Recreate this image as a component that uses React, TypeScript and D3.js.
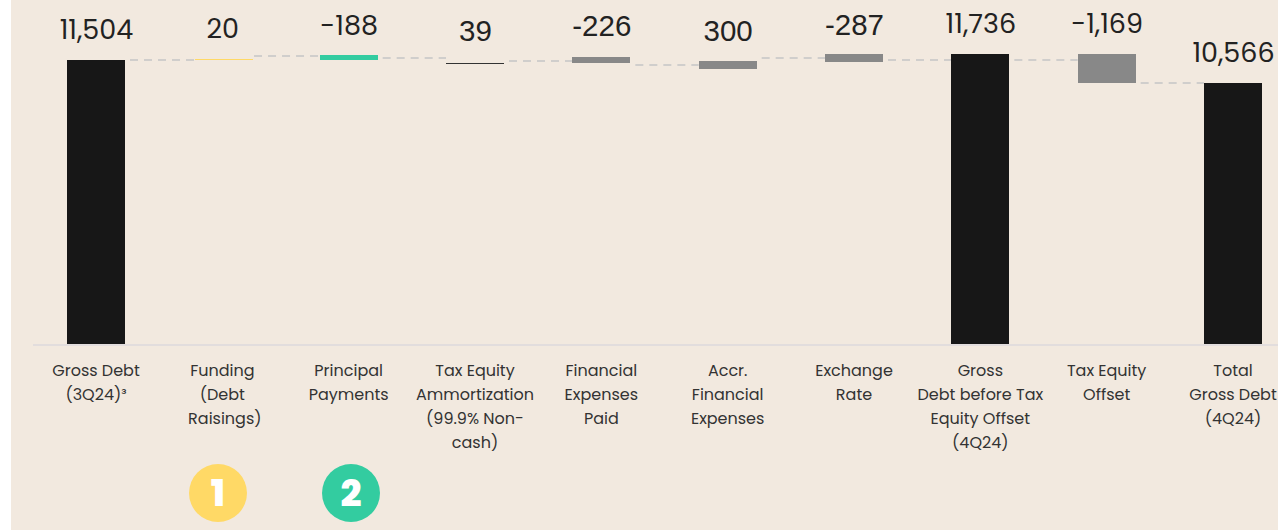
import React from "react";
import * as d3 from "d3";

const categories = ["Gross Debt (3Q24)", "Funding", "Principal Payments", "Tax Equity Ammortization", "Financial Expenses Paid", "Accr. Financial Expenses", "Exchange Rate", "Gross Debt before Tax Equity Offset (4Q24)", "Tax Equity Offset", "Total Gross Debt (4Q24)"];
const labelLines = [
  ["Gross Debt", "(3Q24)³"],
  ["Funding", "(Debt", "Raisings)"],
  ["Principal", "Payments"],
  ["Tax Equity", "Ammortization", "(99.9% Non-", "cash)"],
  ["Financial", "Expenses", "Paid"],
  ["Accr.", "Financial", "Expenses"],
  ["Exchange", "Rate"],
  ["Gross", "Debt before Tax", "Equity Offset", "(4Q24)"],
  ["Tax Equity", "Offset"],
  ["Total", "Gross Debt", "(4Q24)"],
];
const valueLabels = ["11,504", "20", "-188", "39", "-226", "300", "-287", "11,736", "-1,169", "10,566"];
// Bar extents in debt units, as drawn in the picture
const barLow = [0, 11504, 11504, 11336, 11372, 11140, 11412, 0, 10566, 0];
const barHigh = [11504, 11524, 11690, 11375, 11598, 11440, 11720, 11736, 11736, 10566];
const barKind = ["total", "up", "pay", "thin", "delta", "delta", "delta", "total", "delta", "total"];
const connectorLevel = [11493, 11635, 11574, 11453, 11291, 11574, 11493, 11493, 10566];
const badgeIndex = [1, 2];
const badgeText = ["1", "2"];
const badgeColor = ["#FFD966", "#33CCA0"];

const W = 1278, H = 530;
const POP = "'Poppins', 'Noto Sans', Lato, sans-serif";
const LIB = "'Liberation Sans', Arial, sans-serif";
const fills: Record<string, string> = { total: "#171717", up: "#FFD966", pay: "#33CCA0", thin: "#333333", delta: "#888888" };
const valueBase = [39, 38, 35, 41, 36, 41, 35, 33, 33, 62];

export default function App() {
  const cx = d3.scalePoint<number>().domain(d3.range(10)).range([96, 1233]);
  const y = d3.scaleLinear().domain([0, 11736]).range([344, 54]);
  const bw = 58;
  const barX = (i: number) => cx(i)! - bw / 2 + (i === 1 ? 1.7 : 0);
  return (
    <svg width={W} height={H} style={{ position: "absolute", left: 0, top: 0, background: "#fff" }}>
      <rect x={11} y={0} width={W - 11} height={H} fill="#F2E9DF" />
      <line x1={33} x2={W} y1={345} y2={345} stroke="#E2DDDD" strokeWidth={2} />
      {connectorLevel.map((v, i) => (
        <line key={i} x1={barX(i) + bw - (i === 1 ? 4 : 0)} x2={barX(i + 1)} y1={Math.round(y(v))} y2={Math.round(y(v))} stroke="#D0CECC" strokeWidth={2} strokeDasharray="8 6" strokeDashoffset={9} />
      ))}
      {categories.map((c, i) => {
        const top = Math.round(y(barHigh[i]));
        const bottom = Math.round(y(barLow[i]));
        return <rect key={c} x={Math.round(barX(i))} y={top} width={bw} height={Math.max(1, bottom - top)} fill={fills[barKind[i]]} />;
      })}
      {valueLabels.map((t, i) => {
        const lib = i >= 3 && i <= 6;
        return (
          <text key={i} x={cx(i)! + 0.5} y={valueBase[i]} textAnchor="middle" fontFamily={lib ? LIB : POP} fontSize={lib ? 29.5 : 27} fill="#222">{t}</text>
        );
      })}
      {labelLines.map((ls, i) => (
        <text key={i} textAnchor="middle" fontFamily={POP} fontSize={16} fill="#333">
          {ls.map((l, j) => <tspan key={j} x={cx(i)! + (i === 1 && j === 2 ? 2.5 : 0)} y={376 + j * 24}>{l}</tspan>)}
        </text>
      ))}
      {badgeIndex.map((b, k) => (
        <g key={b}>
          <circle cx={k === 0 ? 218 : 351} cy={493} r={29} fill={badgeColor[k]} />
          <text x={k === 0 ? 218 : 351} y={506} textAnchor="middle" fontFamily={POP} fontWeight={800} fontSize={37} fill="#fff">{badgeText[k]}</text>
        </g>
      ))}
    </svg>
  );
}
